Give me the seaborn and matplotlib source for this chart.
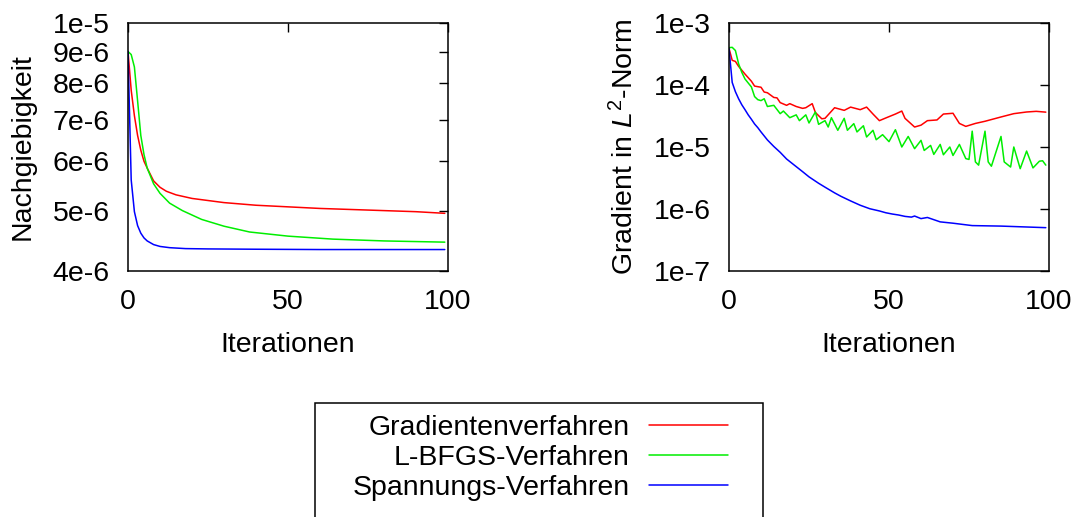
import numpy as np
import pandas as pd
import matplotlib
matplotlib.use("Agg")
import matplotlib.pyplot as plt
import seaborn as sns
from matplotlib.ticker import LogLocator, NullLocator, NullFormatter
from matplotlib.lines import Line2D
from matplotlib.patches import Rectangle

# ---------------- data ----------------
series_names = ["Gradientenverfahren", "L-BFGS-Verfahren", "Spannungs-Verfahren"]
series_colors = ["#ff0000", "#00ee00", "#0000ff"]

x_label = "Iterationen"
left_ylabel = "Nachgiebigkeit"
right_ylabel = r"Gradient in $\mathit{L}^2$-Norm"

x_ticks = [0, 50, 100]
left_yticks = [4e-6, 5e-6, 6e-6, 7e-6, 8e-6, 9e-6, 1e-5]
left_yticklabels = ["4e-6", "5e-6", "6e-6", "7e-6", "8e-6", "9e-6", "1e-5"]
right_yticks = [1e-7, 1e-6, 1e-5, 1e-4, 1e-3]
right_yticklabels = ["1e-7", "1e-6", "1e-5", "1e-4", "1e-3"]

# left panel: Nachgiebigkeit
grad_comp_it = [0, 1, 2, 3, 4, 5, 6, 8, 10, 12, 15, 20, 30, 40, 50, 60, 75, 90, 99]
grad_comp = [9.0e-6, 7.8e-6, 7.1e-6, 6.6e-6, 6.25e-6, 6.0e-6, 5.85e-6, 5.58e-6, 5.45e-6,
             5.37e-6, 5.3e-6, 5.23e-6, 5.15e-6, 5.1e-6, 5.07e-6, 5.04e-6, 5.01e-6, 4.98e-6, 4.95e-6]
lbfgs_comp_it = [0, 1, 2, 3, 4, 5, 6, 8, 10, 13, 17, 23, 30, 38, 50, 64, 80, 99]
lbfgs_comp = [9.0e-6, 8.9e-6, 8.5e-6, 7.5e-6, 6.6e-6, 6.15e-6, 5.85e-6, 5.52e-6, 5.33e-6,
              5.14e-6, 5.0e-6, 4.84e-6, 4.72e-6, 4.62e-6, 4.55e-6, 4.5e-6, 4.47e-6, 4.45e-6]
span_comp_it = [0, 1, 2, 3, 4, 5, 6, 8, 10, 13, 18, 25, 40, 60, 99]
span_comp = [9.0e-6, 5.6e-6, 4.98e-6, 4.73e-6, 4.6e-6, 4.52e-6, 4.47e-6, 4.41e-6, 4.38e-6,
             4.36e-6, 4.345e-6, 4.34e-6, 4.335e-6, 4.33e-6, 4.33e-6]

# right panel: Gradient in L2-Norm
grad_norm_it = [0, 1, 2, 3, 5, 7, 8, 10, 11, 12, 14, 15, 16, 18, 19, 21, 23, 24, 26, 27, 29, 30,
                33, 36, 38, 41, 43, 45, 47, 49, 52, 54, 55, 58, 60, 62, 65, 67, 70, 72, 74, 77,
                80, 85, 89, 93, 96, 99]
grad_norm = [3.9e-4, 2.5e-4, 2.4e-4, 2.0e-4, 1.5e-4, 1.15e-4, 9.6e-5, 9.2e-5, 7.7e-5, 7.5e-5,
             6.3e-5, 6.2e-5, 5.2e-5, 4.7e-5, 5.0e-5, 4.5e-5, 4.2e-5, 4.3e-5, 5.0e-5, 3.6e-5,
             2.85e-5, 2.9e-5, 4.3e-5, 3.9e-5, 4.4e-5, 4.0e-5, 4.4e-5, 3.4e-5, 2.66e-5, 2.94e-5,
             3.4e-5, 3.8e-5, 2.9e-5, 2.1e-5, 2.25e-5, 2.66e-5, 2.73e-5, 3.4e-5, 3.5e-5, 2.4e-5,
             2.15e-5, 2.4e-5, 2.6e-5, 3.05e-5, 3.45e-5, 3.67e-5, 3.76e-5, 3.65e-5]
lbfgs_norm_it = [0, 1, 2, 3, 4, 5, 7, 8, 9, 10, 11, 12, 14, 16, 17, 19, 21, 22, 24, 25, 27, 28,
                 30, 31, 32, 34, 36, 37, 39, 40, 42, 43, 45, 46, 48, 50, 52, 54, 56, 58, 60, 61,
                 63, 64, 66, 67, 69, 70, 72, 74, 75, 76, 77, 78, 80, 81, 82, 85, 86, 88, 89, 91,
                 93, 95, 97, 98, 99]
lbfgs_norm = [4.0e-4, 4.05e-4, 3.6e-4, 2.2e-4, 1.6e-4, 1.25e-4, 9.3e-5, 6.5e-5, 5.8e-5, 5.6e-5,
              6.0e-5, 4.5e-5, 4.7e-5, 3.45e-5, 3.8e-5, 2.97e-5, 3.3e-5, 2.66e-5, 3.3e-5, 2.44e-5,
              3.67e-5, 2.32e-5, 2.66e-5, 2.1e-5, 2.97e-5, 1.86e-5, 2.9e-5, 1.86e-5, 2.38e-5,
              1.75e-5, 2.2e-5, 1.45e-5, 1.86e-5, 1.31e-5, 1.58e-5, 1.22e-5, 1.9e-5, 1.0e-5,
              1.48e-5, 9.4e-6, 1.28e-5, 8.8e-6, 1.06e-5, 7.6e-6, 1.1e-5, 7.5e-6, 1.0e-5, 7.3e-6,
              1.1e-5, 6.5e-6, 6.3e-6, 1.8e-5, 5.75e-6, 5.1e-6, 1.8e-5, 5.75e-6, 4.9e-6, 1.48e-5,
              5.75e-6, 4.75e-6, 1.0e-5, 4.47e-6, 8.6e-6, 4.6e-6, 5.9e-6, 6.0e-6, 5.1e-6]
span_norm_it = [0, 1, 2, 3, 4, 5, 6, 7, 8, 9, 10, 12, 14, 16, 18, 20, 23, 25, 28, 30, 33, 35,
                38, 41, 44, 47, 49, 51, 53, 55, 57, 58, 60, 62, 66, 70, 76, 85, 99]
span_norm = [3.86e-4, 1.1e-4, 7.8e-5, 6.0e-5, 4.8e-5, 4.0e-5, 3.3e-5, 2.8e-5, 2.35e-5, 2.05e-5,
             1.75e-5, 1.3e-5, 1.02e-5, 8.2e-6, 6.4e-6, 5.3e-6, 4.0e-6, 3.3e-6, 2.6e-6, 2.25e-6,
             1.82e-6, 1.6e-6, 1.35e-6, 1.15e-6, 1.01e-6, 9.3e-7, 8.7e-7, 8.3e-7, 8.0e-7, 7.6e-7,
             7.4e-7, 7.7e-7, 7.0e-7, 7.3e-7, 6.2e-7, 5.9e-7, 5.4e-7, 5.3e-7, 5.0e-7]


def long_frame(pairs):
    frames = []
    for name, (its, vals) in zip(series_names, pairs):
        frames.append(pd.DataFrame({"Iteration": its, "Wert": vals, "Verfahren": name}))
    return pd.concat(frames, ignore_index=True)


df_left = long_frame([(grad_comp_it, grad_comp), (lbfgs_comp_it, lbfgs_comp),
                      (span_comp_it, span_comp)])
df_right = long_frame([(grad_norm_it, grad_norm), (lbfgs_norm_it, lbfgs_norm),
                       (span_norm_it, span_norm)])

# ---------------- style ----------------
sns.set_style("white")
plt.rcParams["font.family"] = ["Liberation Sans", "DejaVu Sans"]
plt.rcParams["mathtext.fontset"] = "custom"
plt.rcParams["mathtext.rm"] = "Liberation Sans"
plt.rcParams["mathtext.it"] = "Liberation Sans:italic"
for key in ("text.color", "axes.labelcolor", "xtick.color", "ytick.color",
            "xtick.labelcolor", "ytick.labelcolor", "axes.edgecolor"):
    plt.rcParams[key] = "black"

FS = 20.5
W, H = 1075, 517
fig = plt.figure(figsize=(W / 100, H / 100), dpi=100)
ax1 = fig.add_axes([128 / W, 1 - 271 / H, 320 / W, 248 / H])
ax2 = fig.add_axes([729 / W, 1 - 271 / H, 320 / W, 248 / H])

palette = dict(zip(series_names, series_colors))
for ax, df in ((ax1, df_left), (ax2, df_right)):
    sns.lineplot(data=df, x="Iteration", y="Wert", hue="Verfahren", palette=palette,
                 estimator=None, sort=False, legend=False, linewidth=1.1, ax=ax)
    ax.set_yscale("log")
    ax.set_xlim(0, 100)
    ax.set_xticks(x_ticks)
    ax.set_xlabel(x_label, fontsize=FS, color="black")
    ax.xaxis.set_label_coords(0.5, -0.245)
    for s in ax.spines.values():
        s.set_visible(True)
        s.set_color("black")
        s.set_linewidth(1.1)
    ax.tick_params(which="both", direction="in", top=True, right=True, colors="black",
                   labelcolor="black", labelsize=FS, pad=13)
    ax.tick_params(which="major", length=6.5, width=1.0)
    ax.tick_params(which="minor", length=3.3, width=1.0)
    ax.xaxis.set_minor_locator(NullLocator())

ax1.set_ylim(4e-6, 1e-5)
ax1.set_yticks(left_yticks, labels=left_yticklabels)
ax1.yaxis.set_minor_locator(NullLocator())
ax1.yaxis.set_minor_formatter(NullFormatter())
ax1.set_ylabel(left_ylabel, fontsize=FS, color="black")
ax1.yaxis.set_label_coords(-0.288, 0.5)

ax2.set_ylim(1e-7, 1e-3)
ax2.set_yticks(right_yticks, labels=right_yticklabels)
ax2.yaxis.set_minor_locator(LogLocator(base=10, subs=np.arange(2, 10)))
ax2.yaxis.set_minor_formatter(NullFormatter())
ax2.set_ylabel(right_ylabel, fontsize=FS, color="black")
ax2.yaxis.set_label_coords(-0.281, 0.5)

# ---------------- legend box ----------------
fig.add_artist(Rectangle((315 / W, -0.05), (763 - 315) / W, 0.05 + 1 - 403 / H,
                         transform=fig.transFigure, fill=False, edgecolor="black",
                         linewidth=1.1))
for i, (name, col) in enumerate(zip(series_names, series_colors)):
    yc = 1 - (425 + 30 * i) / H
    fig.text(630 / W, yc, name, ha="right", va="center_baseline", fontsize=FS, color="black")
    fig.add_artist(Line2D([649 / W, 728 / W], [yc, yc], color=col, linewidth=1.1,
                          transform=fig.transFigure))

fig.savefig("out.png", dpi=100)
